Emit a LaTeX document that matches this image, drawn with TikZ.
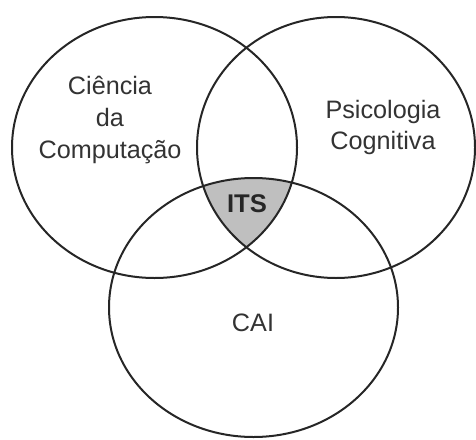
\documentclass[tikz,border=0pt]{standalone}
\usepackage{fontspec}
\setmainfont{Liberation Sans}
\begin{document}
\begin{tikzpicture}[x=0.5pt,y=-0.5pt,
  venn/.style={draw=black!85,line width=1pt},
  lbl/.style={text=black!80,font=\fontsize{12.6}{15.8}\selectfont,align=center,inner sep=0pt},
  itslbl/.style={text=black!85,font=\fontsize{12.8}{15.8}\selectfont\bfseries,inner sep=0pt}]
\useasboundingbox (0,0) rectangle (476,439);
\coordinate (cL) at (154.5,147.5);
\coordinate (cR) at (336,147.5);
\coordinate (cB) at (253.5,307.5);
\begin{scope}
  \clip (cL) ellipse [x radius=71.25pt, y radius=65.25pt];
  \clip (cR) ellipse [x radius=69.5pt, y radius=65.25pt];
  \fill[black!25] (cB) ellipse [x radius=72.25pt, y radius=64.75pt];
\end{scope}
\draw[venn] (cL) ellipse [x radius=71.25pt, y radius=65.25pt];
\draw[venn] (cR) ellipse [x radius=69.5pt, y radius=65.25pt];
\draw[venn] (cB) ellipse [x radius=72.25pt, y radius=64.75pt];
\node[lbl] (cc) at (110,120) {Ciência\\da\\Computação};
\node[lbl] (pc) at (383,127.5) {Psicologia\\Cognitiva};
\node[itslbl] (its) at (247,204) {ITS};
\node[lbl] (cai) at (253,323) {CAI};
\end{tikzpicture}
\end{document}
